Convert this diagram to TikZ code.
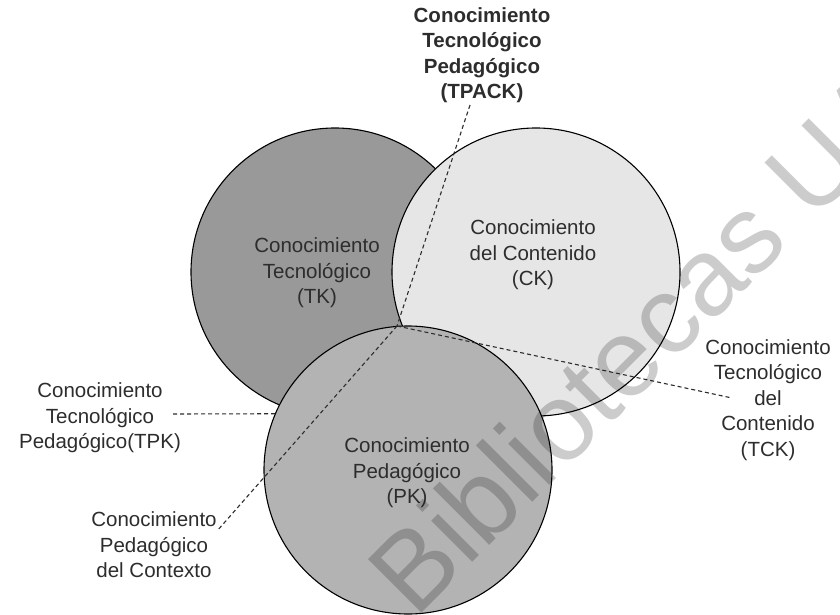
\documentclass[tikz,border=0pt]{standalone}
\usepackage{fontspec}
\setmainfont{Liberation Sans}
\definecolor{txt}{RGB}{45,45,45}
\definecolor{tkfill}{RGB}{153,153,153}
\definecolor{ckfill}{RGB}{230,230,230}
\definecolor{pkfill}{RGB}{179,179,179}
\tikzset{
  setcircle/.style={circle, draw=black, line width=1.1pt, minimum size=288pt, inner sep=0pt, outer sep=0pt},
  lbl/.style={align=center, text=txt, inner sep=0pt, font=\fontsize{20.5}{25.5}\selectfont},
  lblbold/.style={lbl, font=\fontsize{20.5}{25.5}\selectfont\bfseries},
  guide/.style={draw=txt, line width=1.1pt, dash pattern=on 4pt off 3pt},
  wmtext/.style={text=black, text opacity=0.2, inner sep=0pt, font=\fontsize{110}{110}\selectfont}
}
\begin{document}
\begin{tikzpicture}[x=1pt, y=-1pt]
\useasboundingbox[fill=white] (0,0) rectangle (840,615);

% the three knowledge domains
\node[setcircle, fill=tkfill] (TK) at (335,272) {};
\node[setcircle, fill=ckfill] (CK) at (536,272) {};
\node[setcircle, fill=pkfill] (PK) at (408,470) {};

% labels inside the circles
\node[lbl] (tktext) at (317,273) {Conocimiento\\Tecnológico\\(TK)};
\node[lbl] (cktext) at (533,255) {Conocimiento\\del Contenido\\(CK)};
\node[lbl] (pktext) at (407,473) {Conocimiento\\Pedagógico\\(PK)};

% outer labels
\node[lblbold] (tpack) at (482,55) {Conocimiento\\Tecnológico\\Pedagógico\\(TPACK)};
\node[lbl] (tpk) at (100,418) {Conocimiento\\Tecnológico\\Pedagógico(TPK)};
\node[lbl] (ctx) at (154,545) {Conocimiento\\Pedagógico\\del Contexto};
\node[lbl] (tck) at (768,400) {Conocimiento\\Tecnológico\\del\\Contenido\\(TCK)};

% guide line end points
\coordinate (tp) at (397,326);
\coordinate (tpackend) at (470,105);
\coordinate (tpkend) at (173,414);
\coordinate (ctxend) at (217,531);
\coordinate (tckend) at (732,398);

% dashed guides
\draw[guide] (tpackend) -- (tp);
\draw[guide] (tp) -- (ctxend);
\draw[guide] (tp) -- (tckend);
\draw[guide] (tpkend) -- (PK.157);

% watermark
\node[wmtext, rotate=45, anchor=base west] (wm) at (415,620) {Bibliotecas UA};
\end{tikzpicture}
\end{document}
